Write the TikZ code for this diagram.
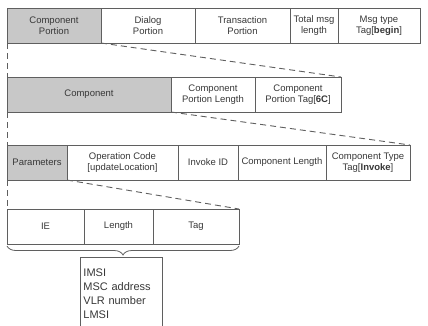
\documentclass[tikz,border=0pt]{standalone}
\usepackage{fontspec}
\setmainfont{Liberation Sans}
\usetikzlibrary{positioning, decorations.pathreplacing}
\definecolor{cellgray}{RGB}{200,200,200}
\definecolor{linegray}{RGB}{95,95,95}
\definecolor{textgray}{RGB}{55,55,55}

\begin{document}
\begin{tikzpicture}[x=1pt, y=-1pt,
    every node/.style={font=\fontsize{9.5}{11}\selectfont, text=textgray},
    cell/.style={rectangle, draw=linegray, line width=0.9pt, minimum height=35pt, inner sep=1pt, outer sep=0pt, align=center},
    sel/.style={cell, fill=cellgray},
    listbox/.style={rectangle, draw=linegray, line width=0.9pt, text width=76pt, align=left, inner xsep=3pt, inner ysep=11pt, font=\fontsize{11}{14}\selectfont},
    zoomline/.style={draw=linegray, line width=0.9pt, dash pattern=on 6pt off 4pt},
    brace/.style={draw=linegray, line width=0.8pt, decorate, decoration={brace, mirror, amplitude=9pt, raise=2pt}}
]
\useasboundingbox (0,0) rectangle (428,325);

% Row 1: whole message
\node[sel, minimum width=94pt, anchor=north west] (cport) at (7,8) {Component\\Portion};
\node[cell, minimum width=94pt, right=0pt of cport] (dport) {Dialog\\Portion};
\node[cell, minimum width=95pt, right=0pt of dport] (tport) {Transaction\\Portion};
\node[cell, minimum width=48pt, right=0pt of tport] (msglen) {Total msg\\length};
\node[cell, minimum width=82pt, right=0pt of msglen] (msgtag) {Msg type\\Tag[\textbf{begin}]};

% Row 2: component portion
\node[sel, minimum width=164pt, anchor=north west] (comp) at (7,77) {Component};
\node[cell, minimum width=84pt, right=0pt of comp] (cplen) {Component\\Portion Length};
\node[cell, minimum width=86pt, right=0pt of cplen] (cptag) {Component\\Portion Tag[\textbf{6C}]};

% Row 3: component
\node[sel, minimum width=60pt, anchor=north west] (params) at (7,145) {Parameters};
\node[cell, minimum width=111pt, right=0pt of params] (opcode) {Operation Code\\{[updateLocation]}};
\node[cell, minimum width=60pt, right=0pt of opcode] (invid) {Invoke ID};
\node[cell, minimum width=88pt, right=0pt of invid] (complen) {Component Length};
\node[cell, minimum width=84pt, right=0pt of complen] (comptag) {Component Type\\Tag[\textbf{Invoke}]};

% Row 4: parameters
\node[cell, minimum width=77pt, anchor=north west] (ie) at (7,209) {IE};
\node[cell, minimum width=69pt, right=0pt of ie] (ielen) {Length};
\node[cell, minimum width=86pt, right=0pt of ielen] (ietag) {Tag};

% IE list
\node[listbox, anchor=north west] (ielist) at (80,257) {IMSI\\MSC address\\VLR number\\LMSI};

% Zoom lines (dashed)
\draw[zoomline] (cport.south west) -- (comp.north west);
\draw[zoomline] (cport.south east) -- (cptag.north east);
\draw[zoomline] (comp.south west) -- (params.north west);
\draw[zoomline] (comp.south east) -- (comptag.north east);
\draw[zoomline] (params.south west) -- (ie.north west);
\draw[zoomline] (params.south east) -- (ietag.north east);

% Brace under parameters
\draw[brace] (ie.south west) -- (ietag.south east);

\end{tikzpicture}
\end{document}
